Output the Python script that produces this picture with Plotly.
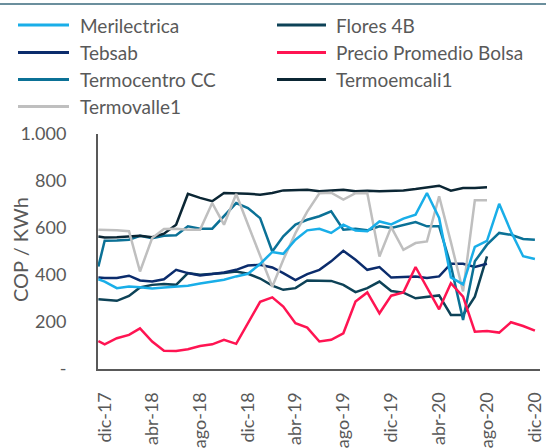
import plotly.graph_objects as go
import pandas as pd

# ---- data (COP / KWh) ----
first_date = ["2017-11-15"]
month_dates = [d.strftime("%Y-%m-%d") for d in pd.date_range("2017-12-01", "2020-12-01", freq="MS")]
dates = first_date + month_dates

merilectrica = [382, 372, 344, 351, 348, 343, 347, 351, 354, 364, 371, 380, 394, 405, 447, 498, 490, 550,
                590, 597, 579, 614, 589, 586, 628, 615, 640, 657, 749, 643, 390, 360, 520, 545, 703, 585,
                480, 468]
flores_4b = [297, 294, 290, 311, 347, 358, 362, 358, 408, 401, 404, 408, 415, 405, 385, 355, 337, 344,
             377, 377, 375, 358, 327, 344, 372, 332, 325, 301, 308, 313, 230, 230, 308, 479,
             None, None, None, None]
tebsab = [389, 387, 387, 397, 377, 372, 382, 422, 408, 398, 404, 411, 422, 440, 444, 432, 408, 378,
          404, 422, 458, 503, 465, 422, 434, 389, 391, 394, 387, 394, 448, 448, 434, 448,
          None, None, None, None]
precio_bolsa = [119, 105, 131, 145, 173, 117, 78, 77, 84, 98, 105, 124, 107, 195, 286, 305, 266, 195,
                176, 117, 124, 152, 287, 326, 237, 312, 326, 434, 344, 254, 365, 308, 159, 162, 155,
                199, 183, 163]
termocentro = [436, 546, 547, 550, 567, 557, 567, 569, 607, 597, 597, 650, 706, 685, 642, 500, 565, 615,
               635, 650, 671, 593, 597, 590, 607, 600, 612, 625, 607, 607, 440, 209, 458, 529, 579,
               571, 553, 550]
termoemcali1 = [564, 560, 561, 564, 567, 561, 576, 614, 745, 728, 714, 749, 749, 746, 742, 749, 760, 763,
                763, 756, 759, 763, 756, 759, 756, 758, 760, 766, 773, 780, 759, 770, 770, 773,
                None, None, None, None]
termovalle1 = [593, 593, 590, 586, 415, 557, 596, 597, 593, 593, 706, 614, 745, 615, 480, 350, 465, 578,
               670, 748, 750, 721, 748, 749, 479, 604, 507, 536, 543, 735, 540, 330, 718, 718,
               None, None, None, None]

x_tick_dates = ["2017-12-01", "2018-04-01", "2018-08-01", "2018-12-01", "2019-04-01",
                "2019-08-01", "2019-12-01", "2020-04-01", "2020-08-01", "2020-12-01"]
x_tick_labels = ["dic-17", "abr-18", "ago-18", "dic-18", "abr-19",
                 "ago-19", "dic-19", "abr-20", "ago-20", "dic-20"]
y_tick_vals = [0, 200, 400, 600, 800, 1000]
y_tick_labels = ["-", "200", "400", "600", "800", "1.000"]

series = [
    ("Merilectrica", merilectrica, "#19AEE8"),
    ("Flores 4B", flores_4b, "#0D4257"),
    ("Tebsab", tebsab, "#0B2C6C"),
    ("Precio Promedio Bolsa", precio_bolsa, "#FF1452"),
    ("Termocentro CC", termocentro, "#0B7196"),
    ("Termoemcali1", termoemcali1, "#0B2634"),
    ("Termovalle1", termovalle1, "#BFBFBF"),
]
draw_order = ["Flores 4B", "Tebsab", "Termocentro CC", "Termoemcali1", "Termovalle1",
              "Merilectrica", "Precio Promedio Bolsa"]

FONT = "Lato"
TXT = "#595959"
W, H = 546, 448
L, R, T, B = 98, 6, 134, 79
pw, ph = W - L - R, H - T - B

def xp(px):
    return (px - L) / pw

def yp(py):
    return (H - B - py) / ph

fig = go.Figure()
lookup = {n: (v, c) for n, v, c in series}
for name in draw_order:
    vals, col = lookup[name]
    fig.add_trace(go.Scatter(x=dates, y=vals, mode="lines", name=name,
                             line=dict(color=col, width=2.5), showlegend=False,
                             connectgaps=False))

shapes = []
annotations = []
# manual legend (row-major, two columns)
col_x = [(18, 69, 78), (277, 326, 334)]
row_y = [25, 52.5, 79.5, 106.5]
for i, (name, vals, col) in enumerate(series):
    r, c = divmod(i, 2)
    x0, x1, xt = col_x[c]
    y = row_y[r]
    shapes.append(dict(type="line", xref="paper", yref="paper",
                       x0=xp(x0), x1=xp(x1), y0=yp(y), y1=yp(y),
                       line=dict(color=col, width=3)))
    annotations.append(dict(text=name, xref="paper", yref="paper", x=xp(xt), y=yp(y),
                            xanchor="left", yanchor="middle", showarrow=False,
                            font=dict(family=FONT, size=19, color=TXT)))
# y axis title
annotations.append(dict(text="COP / KWh", xref="paper", yref="paper", x=xp(20), y=yp(250),
                        xanchor="center", yanchor="middle", textangle=-90, showarrow=False,
                        font=dict(family=FONT, size=20, color=TXT)))
# decorative top rule
shapes.append(dict(type="line", xref="paper", yref="paper", x0=xp(0), x1=xp(W),
                   y0=yp(4), y1=yp(4), line=dict(color="#3A6A7C", width=1.5)))

fig.update_layout(
    width=W, height=H,
    margin=dict(l=L, r=R, t=T, b=B, pad=0, autoexpand=False),
    paper_bgcolor="white", plot_bgcolor="white",
    shapes=shapes, annotations=annotations,
    font=dict(family=FONT, color=TXT),
    xaxis=dict(type="date", range=["2017-11-14", "2020-12-14"], automargin=False,
               tickvals=x_tick_dates, ticktext=x_tick_labels, tickangle=-90,
               tickfont=dict(family=FONT, size=18, color=TXT),
               showgrid=False, zeroline=False, showline=True, linecolor="#595959",
               linewidth=2, ticks="", ticklabelstandoff=14),
    yaxis=dict(range=[0, 1000], tickvals=y_tick_vals, ticktext=y_tick_labels, automargin=False,
               tickfont=dict(family=FONT, size=18, color=TXT),
               showgrid=False, zeroline=False, showline=True, linecolor="#595959",
               linewidth=2, ticks="", ticklabelstandoff=26),
)

fig.write_html("out.html", config={"displayModeBar": False},
               post_script="document.body.style.margin='0';document.body.style.overflow='hidden';")
